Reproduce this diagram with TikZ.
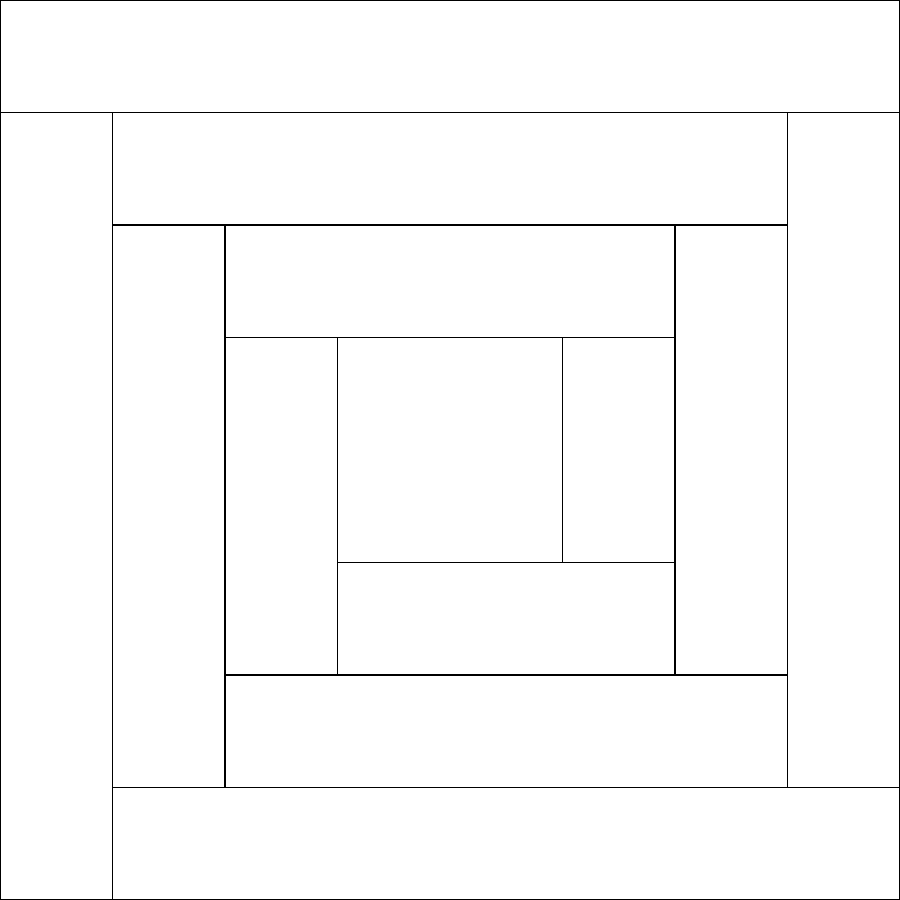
\documentclass[tikz,border=0pt]{standalone}
\usepackage{tikz}
\usetikzlibrary{calc}
\begin{document}
\begin{tikzpicture}[patch/.style={draw=black, line width=.3pt}]
        \useasboundingbox (0,0) rectangle (8,8);
        % rings of logs, outer to inner, then the centre square
        \foreach \xa/\ya/\xb/\yb in {0/7/8/8, 0/0/1/7, 1/0/8/1, 7/1/8/7,
                                     1/6/7/7, 1/1/2/6, 2/1/7/2, 6/2/7/6,
                                     2/5/6/6, 2/2/3/5, 3/2/6/3, 5/3/6/5,
                                     3/3/5/5}
           \draw[patch] (\xa,\ya) rectangle (\xb,\yb);
      \end{tikzpicture}
\end{document}
